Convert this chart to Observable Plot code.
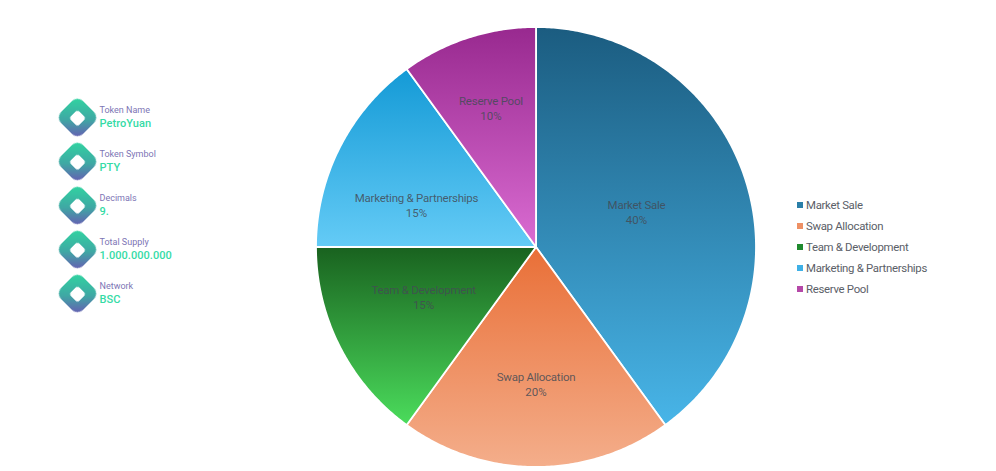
<!DOCTYPE html>
<html><head><meta charset="utf-8">
<script src="https://cdn.jsdelivr.net/npm/d3@7"></script>
<script src="https://cdn.jsdelivr.net/npm/@observablehq/plot@0.6"></script>
<style>
html,body{margin:0;padding:0;background:#fff;width:996px;height:471px;overflow:hidden;font-family:Roboto,sans-serif}
#chart{position:absolute;left:0;top:0}
.legend{position:absolute;left:797px;top:194.5px;font-size:11.4px;color:#5b6068;line-height:21px;letter-spacing:-.3px}
.legend div{height:21px;white-space:nowrap}
.legend i{display:inline-block;width:6px;height:6px;margin-right:3px;vertical-align:1px}
.tok{position:absolute;left:58px;width:140px;height:44px}
.icon{position:absolute;left:3.5px;top:4.5px;width:31px;height:31px;border-radius:8px;transform:rotate(45deg);background:linear-gradient(135deg,#2fd8a0,#3fa8a4 55%,#6a55b4);filter:blur(.6px)}
.icon:after{content:"";position:absolute;left:9.5px;top:9.5px;width:12px;height:12px;border-radius:3px;background:#fff}
.name{position:absolute;left:41.5px;top:7.5px;font-size:9px;line-height:11px;color:#7d75b5;white-space:nowrap}
.val{position:absolute;left:41.5px;top:20px;font-size:11px;line-height:13px;font-weight:500;color:#35dba6;white-space:nowrap;letter-spacing:.05px}
</style></head><body>
<div id="chart"></div>
<div class="legend" id="legend"></div>
<div id="tokens"></div>
<script>
const categories = ["Market Sale","Swap Allocation","Team & Development","Marketing & Partnerships","Reserve Pool"];
const shares = [40,20,15,15,10];
const gradientTop = ["#1b5c80","#e96f37","#19621f","#149ad6","#98298f"];
const gradientBottom = ["#48b5e8","#f4ae8b","#4bdc5c","#64cbf6","#da6cd2"];
const legendColors = ["#2a7fa8","#ee9064","#1f8a2e","#3fb0e6","#b548a8"];
const labelX = [0.457,0,-0.511,-0.543,-0.205];
const labelY = [0.155,-0.625,-0.232,0.187,0.63];
const tokenNames = ["Token Name","Token Symbol","Decimals","Total Supply","Network"];
const tokenValues = ["PetroYuan","PTY","9.","1.000.000.000","BSC"];

const pie = d3.pie().sort(null)(shares);
const slices = pie.map((p,i)=>{
  const n = Math.max(2,Math.ceil((p.endAngle-p.startAngle)/0.01));
  const pts = [{x:0,y:0}];
  for(let k=0;k<=n;k++){const a=p.startAngle+(p.endAngle-p.startAngle)*k/n;pts.push({x:Math.sin(a),y:Math.cos(a)});}
  pts.push({x:0,y:0});
  return pts;
});
const labels = categories.map((c,i)=>({name:c,share:shares[i]+"%",x:labelX[i],y:labelY[i]}));

const defs = () => {
  const s = d3.create("svg:defs");
  categories.forEach((c,i)=>{
    const g = s.append("linearGradient").attr("id","g"+i).attr("x1",0).attr("y1",0).attr("x2",0).attr("y2",1);
    g.append("stop").attr("offset","0%").attr("stop-color",gradientTop[i]);
    g.append("stop").attr("offset","100%").attr("stop-color",gradientBottom[i]);
  });
  return s.node();
};

const plot = Plot.plot({
  width:996,height:471,margin:0,
  style:{background:"transparent"},
  x:{domain:[-1,1],range:[315.5,755.5],axis:null},
  y:{domain:[-1,1],range:[466.5,26.5],axis:null},
  marks:[
    defs,
    ...slices.map((pts,i)=>Plot.line(pts,{x:"x",y:"y",fill:`url(#g${i})`,stroke:"#fff",strokeWidth:1.8,strokeLinejoin:"round"})),
    Plot.text(labels,{x:"x",y:"y",text:"name",dy:-7.5,fontSize:11.5,fill:"#444b55",fillOpacity:0.85,fontFamily:"Roboto"}),
    Plot.text(labels,{x:"x",y:"y",text:"share",dy:7.5,fontSize:11.5,fill:"#444b55",fillOpacity:0.85,fontFamily:"Roboto"})
  ]
});
plot.querySelectorAll("text").forEach(t=>{ if(t.textContent.match(/[a-z]/i)) t.style.letterSpacing="-0.25px"; });
document.getElementById("chart").append(plot);

document.getElementById("legend").innerHTML = categories.map((c,i)=>`<div><i style="background:${legendColors[i]}"></i>${c.replace("&","&amp;")}</div>`).join("");
document.getElementById("tokens").innerHTML = tokenNames.map((n,i)=>`<div class="tok" style="top:${97+44*i}px"><div class="icon"></div><div class="name">${n}</div><div class="val">${tokenValues[i]}</div></div>`).join("");
</script>
</body></html>
